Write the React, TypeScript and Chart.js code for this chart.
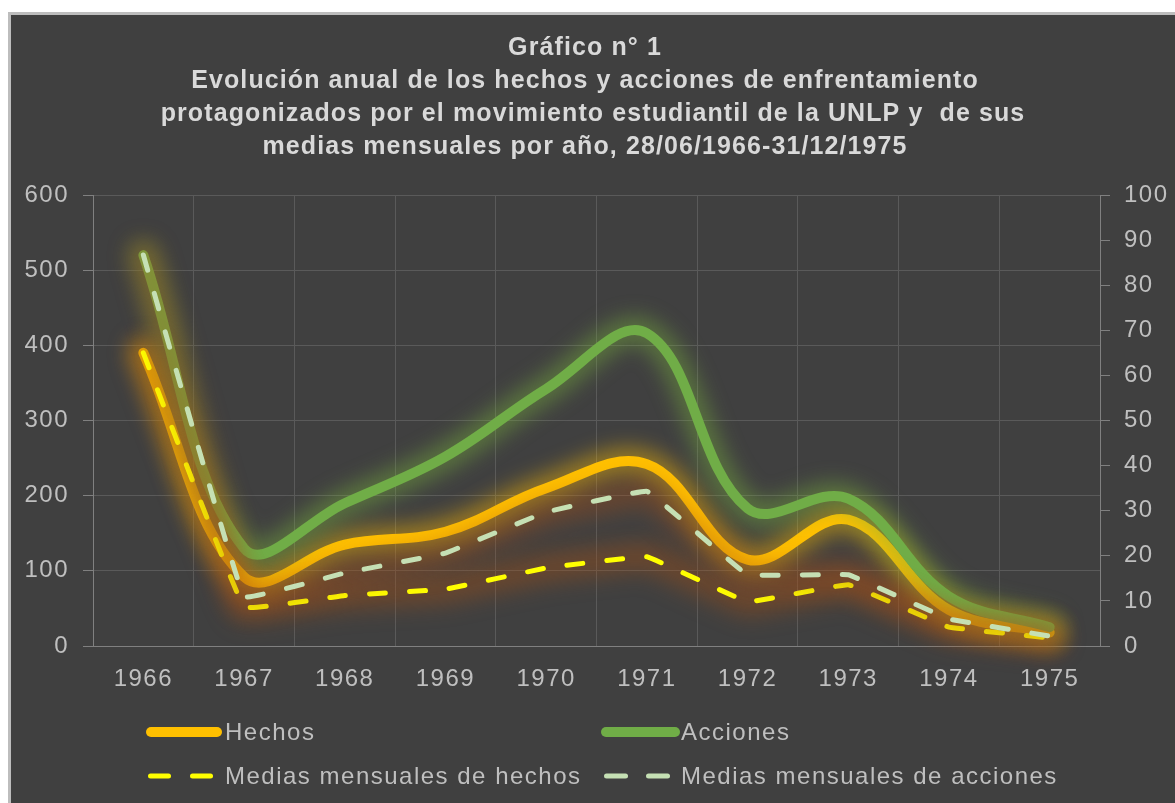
import React, { useEffect, useRef } from 'react';
import { Chart, registerables } from 'chart.js';

Chart.register(...registerables);

const years = ['1966', '1967', '1968', '1969', '1970', '1971', '1972', '1973', '1974', '1975'];
const hechos = [390, 92, 135, 152, 210, 242, 115, 168, 48, 18];
const acciones = [520, 130, 190, 252, 342, 416, 183, 196, 66, 25];
const mediasHechos = [65, 8.6, 11.2, 12.6, 17.3, 19.8, 9.8, 13.6, 4.2, 1.8];
const mediasAcciones = [86.7, 10.9, 16.2, 20.6, 29.7, 34.3, 15.8, 15.8, 6.0, 2.2];

const leftTicks = [0, 100, 200, 300, 400, 500, 600];
const rightTicks = [0, 10, 20, 30, 40, 50, 60, 70, 80, 90, 100];

const titleLines = [
  'Gráfico n° 1',
  'Evolución anual de los hechos y acciones de enfrentamiento',
  'protagonizados por el movimiento estudiantil de la UNLP y  de sus',
  'medias mensuales por año, 28/06/1966-31/12/1975',
];

const seriesNames = ['Hechos', 'Acciones', 'Medias mensuales de hechos', 'Medias mensuales de acciones'];

const FONT = '"Liberation Sans", Arial, sans-serif';
const TEXT = '#bfbfbf';

export default function App() {
  const ref = useRef<HTMLCanvasElement>(null);

  useEffect(() => {
    if (!ref.current) return;

    const spacing = {
      id: 'spacing',
      beforeDraw(chart: any) {
        chart.ctx.letterSpacing = '1.5px';
      },
    };

    const glow = {
      id: 'glow',
      beforeDatasetDraw(chart: any, args: any) {
        const ds: any = chart.data.datasets[args.index];
        const ctx = chart.ctx;
        const el: any = args.meta.dataset;
        if (!el) return;
        const orig = el.options;
        const copy: any = Object.assign({}, orig);
        copy.borderDash = [];
        copy.borderDashOffset = 0;
        copy.borderColor = ds.glowColor;
        copy.borderWidth = ds.glowWidth;
        copy.borderCapStyle = 'round';
        copy.borderJoinStyle = 'round';
        copy.tension = orig.tension;
        ctx.save();
        ctx.filter = `blur(${ds.glowBlur}px)`;
        el.options = copy;
        el.draw(ctx, chart.chartArea);
        el.options = orig;
        ctx.restore();
      },
    };

    const customTitle = {
      id: 'customTitle',
      afterDraw(chart: any) {
        const ctx = chart.ctx;
        ctx.save();
        ctx.letterSpacing = '1.1px';
        ctx.fillStyle = '#d9d9d9';
        ctx.font = `bold 25px ${FONT}`;
        ctx.textAlign = 'center';
        ctx.textBaseline = 'middle';
        const ys = [33, 66, 99, 132];
        const xs = [574, 574, 582, 574];
        titleLines.forEach((t, i) => ctx.fillText(t, xs[i], ys[i]));
        ctx.restore();
      },
    };

    const customLegend = {
      id: 'customLegend',
      afterDraw(chart: any) {
        const ctx = chart.ctx;
        const ds: any[] = chart.data.datasets;
        const items = [
          { i: 0, segs: [[140, 206]], y: 717, tx: 214 },
          { i: 1, segs: [[595, 664]], y: 717, tx: 670 },
          { i: 2, segs: [[139.5, 157.5], [181.5, 199.5]], y: 761, tx: 214 },
          { i: 3, segs: [[595.5, 614.5], [637.5, 656.5]], y: 761, tx: 670 },
        ];
        ctx.save();
        ctx.letterSpacing = '1.5px';
        for (const it of items) {
          const d = ds[it.i];
          ctx.strokeStyle = d.borderColor;
          ctx.lineWidth = d.borderWidth;
          ctx.lineCap = 'round';
          ctx.setLineDash([]);
          for (const s of it.segs) {
            ctx.beginPath();
            ctx.moveTo(s[0], it.y);
            ctx.lineTo(s[1], it.y);
            ctx.stroke();
          }
          ctx.fillStyle = TEXT;
          ctx.font = `24px ${FONT}`;
          ctx.textAlign = 'left';
          ctx.textBaseline = 'middle';
          ctx.fillText(d.label, it.tx, it.y + 1);
        }
        ctx.restore();
      },
    };

    const tickFont = { family: FONT, size: 24 };

    const chart = new Chart(ref.current, {
      type: 'line',
      data: {
        labels: years,
        datasets: [
          {
            label: seriesNames[0],
            data: hechos,
            yAxisID: 'y',
            borderColor: '#FFC000',
            borderWidth: 10,
            tension: 0.38,
            pointRadius: 0,
            borderCapStyle: 'round',
            borderJoinStyle: 'round',
            order: 4,
            glowColor: 'rgba(255,190,0,0.45)',
            glowWidth: 28,
            glowBlur: 10,
          } as any,
          {
            label: seriesNames[1],
            data: acciones,
            yAxisID: 'y',
            borderColor: '#70AD47',
            borderWidth: 10,
            tension: 0.38,
            pointRadius: 0,
            borderCapStyle: 'round',
            borderJoinStyle: 'round',
            order: 3,
            glowColor: 'rgba(120,175,60,0.45)',
            glowWidth: 28,
            glowBlur: 10,
          } as any,
          {
            label: seriesNames[2],
            data: mediasHechos,
            yAxisID: 'y1',
            borderColor: '#FFFF00',
            borderWidth: 5,
            borderDash: [16, 24],
            tension: 0.05,
            pointRadius: 0,
            borderCapStyle: 'round',
            borderJoinStyle: 'round',
            order: 2,
            glowColor: 'rgba(170,80,20,0.42)',
            glowWidth: 28,
            glowBlur: 11,
          } as any,
          {
            label: seriesNames[3],
            data: mediasAcciones,
            yAxisID: 'y1',
            borderColor: '#C5E0B4',
            borderWidth: 5,
            borderDash: [16, 24],
            tension: 0.05,
            pointRadius: 0,
            borderCapStyle: 'round',
            borderJoinStyle: 'round',
            order: 1,
            glowColor: 'rgba(170,80,20,0.38)',
            glowWidth: 28,
            glowBlur: 11,
          } as any,
        ],
      },
      options: {
        responsive: false,
        animation: false,
        devicePixelRatio: 1,
        layout: { padding: { left: 0, right: 0, top: 180, bottom: 107 } },
        plugins: {
          legend: { display: false },
          tooltip: { enabled: false },
          title: { display: false },
        },
        scales: {
          x: {
            type: 'category',
            offset: true,
            grid: { offset: true, color: '#5a5a5a', drawTicks: false },
            border: { color: '#808080' },
            ticks: { color: TEXT, font: tickFont, padding: 19, maxRotation: 0, autoSkip: false },
            afterFit(s: any) {
              s.height = 50;
            },
          },
          y: {
            position: 'left',
            min: leftTicks[0],
            max: leftTicks[leftTicks.length - 1],
            afterBuildTicks(s: any) {
              s.ticks = leftTicks.map((v) => ({ value: v }));
            },
            ticks: { color: TEXT, font: tickFont, padding: 14 },
            grid: { color: '#5a5a5a', tickColor: '#808080', tickLength: 10 },
            border: { color: '#808080' },
            afterFit(s: any) {
              s.width = 82;
            },
          },
          y1: {
            position: 'right',
            min: rightTicks[0],
            max: rightTicks[rightTicks.length - 1],
            afterBuildTicks(s: any) {
              s.ticks = rightTicks.map((v) => ({ value: v }));
            },
            ticks: { color: TEXT, font: tickFont, padding: 14 },
            grid: { drawOnChartArea: false, tickColor: '#808080', tickLength: 10 },
            border: { color: '#808080' },
            afterFit(s: any) {
              s.width = 75;
            },
          },
        },
      } as any,
      plugins: [spacing, glow, customTitle, customLegend],
    });

    return () => chart.destroy();
  }, []);

  return (
    <div
      style={{
        position: 'fixed',
        left: 0,
        top: 0,
        width: 1175,
        height: 803,
        background: '#ffffff',
        overflow: 'hidden',
      }}
    >
      <div
        style={{
          position: 'absolute',
          left: 8,
          top: 12,
          width: 1200,
          height: 820,
          boxSizing: 'border-box',
          borderLeft: '3px solid #bdbdbd',
          borderTop: '3px solid #bdbdbd',
          background: '#404040',
        }}
      />
      <canvas
        ref={ref}
        width={1164}
        height={788}
        style={{ position: 'absolute', left: 11, top: 15, width: 1164, height: 788 }}
      />
    </div>
  );
}
